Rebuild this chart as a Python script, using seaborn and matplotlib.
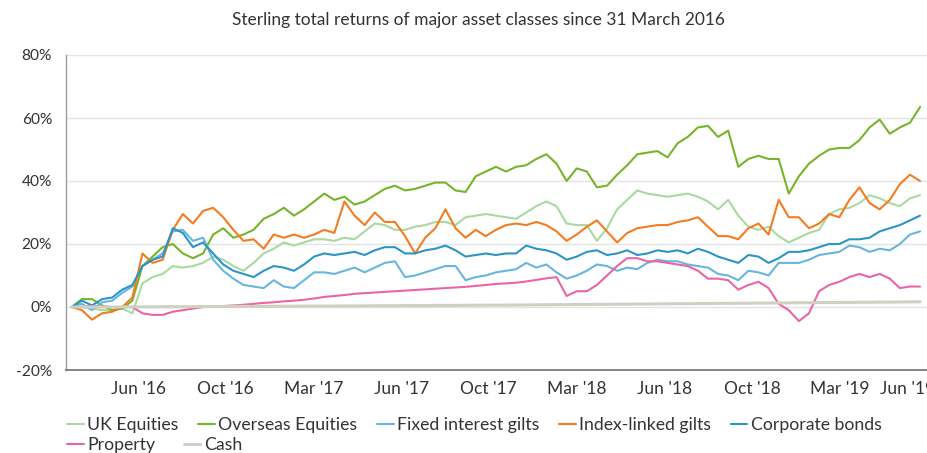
import matplotlib
matplotlib.use("Agg")
import matplotlib.pyplot as plt
import matplotlib.ticker as mticker
import matplotlib.transforms as mtransforms
import seaborn as sns
import pandas as pd
import numpy as np

# ---- data (fortnightly samples from 31 Mar 2016) ----
start_date = "2016-03-31"
step = "14D"

series_names = ["UK Equities", "Overseas Equities", "Fixed interest gilts",
                "Index-linked gilts", "Corporate bonds", "Property", "Cash"]

uk_equities = [0, 0, -0.5, -1, -1, -0.5, -2, 7.5, 9.5, 10.5, 13, 12.5, 13, 14, 16, 15, 13, 11.5, 14, 17,
               18.5, 20.5, 19.5, 20.5, 21.5, 21.5, 21, 22, 21.5, 24, 26.5, 26, 24.5, 24.5, 25.5, 26, 27, 27, 26, 28.5,
               29, 29.5, 29, 28.5, 28, 30, 32, 33.5, 32, 26.5, 26, 26, 21, 25, 31, 34, 37, 36, 35.5, 35,
               35.5, 36, 35, 33.5, 31, 34, 29, 25.5, 24.5, 25.5, 22.5, 20.5, 22, 23.5, 24.5, 29.5, 31, 31.5, 33, 35.5,
               34.5, 33, 32, 34.5, 35.5]
overseas_equities = [0, 2.5, 2.5, 0.5, -1, -0.5, 2, 13, 16, 19, 20, 17, 15.5, 17, 23, 25, 22, 23, 24.5, 28,
                     29.5, 31.5, 29, 31, 33.5, 36, 34, 35, 32.5, 33.5, 35.5, 37.5, 38.5, 37, 37.5, 38.5, 39.5, 39.5, 37, 36.5,
                     41.5, 43, 44.5, 43, 44.5, 45, 47, 48.5, 45.5, 40, 44, 43, 38, 38.5, 42, 45, 48.5, 49, 49.5, 47.5,
                     52, 54, 57, 57.5, 54, 56, 44.5, 47, 48, 47, 47, 36, 41.5, 45.5, 48, 50, 50.5, 50.5, 53, 57,
                     59.5, 55, 57, 58.5, 63.5]
fixed_interest_gilts = [0, 1, -1, 1.5, 2, 4.5, 6.5, 13, 15, 17, 24, 24.5, 21, 22, 15, 11.5, 9, 7, 6.5, 6,
                        8.5, 6.5, 6, 8.5, 11, 11, 10.5, 11.5, 12.5, 11, 12.5, 14, 14.5, 9.5, 10, 11, 12, 13, 13, 8.5,
                        9.5, 10, 11, 11.5, 12, 14, 12.5, 13.5, 11, 9, 10, 11.5, 13.5, 13, 11.5, 12.5, 12, 14, 15, 14.5,
                        14.5, 13.5, 13, 12.5, 10.5, 10, 8.5, 11.5, 11, 10, 14, 14, 14, 15, 16.5, 17, 17.5, 19.5, 19, 17.5,
                        18.5, 18, 20, 23, 24]
index_linked_gilts = [0, -1, -4, -2, -1.5, 0, 3, 17, 14, 15, 24.5, 29.5, 26.5, 30.5, 31.5, 28.5, 24.5, 21, 21.5, 18.5,
                      23, 22, 23, 22, 23, 24.5, 23.5, 33.5, 29, 26, 30, 27, 27, 22.5, 17, 22, 25, 31, 25, 22,
                      24.5, 22.5, 24.5, 26, 26.5, 26, 27, 26, 24, 21, 23, 25.5, 27.5, 24, 20.5, 23.5, 25, 25.5, 26, 26,
                      27, 27.5, 28.5, 25.5, 22.5, 22.5, 21.5, 25, 26.5, 23, 34, 28.5, 28.5, 25, 26.5, 29.5, 28.5, 34, 38, 33,
                      31, 34, 39, 42, 40]
corporate_bonds = [0, 2, 0.5, 2.5, 3, 5.5, 7, 13, 15, 16, 25, 23.5, 19, 20.5, 17, 13.5, 11.5, 10.5, 9.5, 11.5,
                   13, 12.5, 11.5, 13.5, 16, 17, 16.5, 17, 17.5, 16.5, 18, 19, 19, 17, 17, 18, 18.5, 19.5, 18, 16,
                   16.5, 17, 16.5, 17, 17, 19.5, 18.5, 18, 17, 15, 16, 17.5, 18, 16.5, 17, 18, 16.5, 17, 18, 17.5,
                   18, 17, 18.5, 17.5, 16, 15, 14, 16.5, 16, 14, 15.5, 17.5, 17.5, 18, 19, 20, 20, 21.5, 21.5, 22,
                   24, 25, 26, 27.5, 29]
property_ = [0, 0, 0.3, 0.2, 0, 0, 0, -2, -2.5, -2.5, -1.5, -1, -0.5, 0, 0.2, 0.3, 0.5, 0.7, 1, 1.3,
             1.5, 1.8, 2, 2.3, 2.7, 3.2, 3.5, 3.8, 4.2, 4.4, 4.6, 4.8, 5, 5.2, 5.4, 5.6, 5.8, 6, 6.2, 6.4,
             6.7, 7, 7.3, 7.5, 7.7, 8.1, 8.6, 9.1, 9.5, 3.5, 5, 5, 7, 10, 13, 15.5, 15.5, 14.5, 14.5, 14,
             13.5, 13, 11.5, 9, 9, 8.5, 5.5, 7, 8, 6, 1, -1, -4.5, -2, 5, 7, 8, 9.5, 10.5, 9.5,
             10.5, 9, 6, 6.5, 6.5]
cash = [0, 0, 0, 0, 0, 0, 0.05, 0.05, 0.05, 0.1, 0.1, 0.1, 0.1, 0.15, 0.15, 0.15, 0.2, 0.2, 0.2, 0.2,
        0.25, 0.25, 0.25, 0.3, 0.3, 0.3, 0.3, 0.35, 0.35, 0.35, 0.4, 0.4, 0.4, 0.45, 0.45, 0.45, 0.5, 0.5, 0.5, 0.55,
        0.55, 0.6, 0.6, 0.6, 0.65, 0.65, 0.7, 0.7, 0.75, 0.75, 0.8, 0.8, 0.85, 0.85, 0.9, 0.9, 0.95, 0.95, 1.0, 1.0,
        1.05, 1.05, 1.1, 1.1, 1.15, 1.15, 1.2, 1.2, 1.25, 1.25, 1.3, 1.3, 1.35, 1.35, 1.4, 1.4, 1.45, 1.45, 1.5, 1.5,
        1.55, 1.55, 1.6, 1.6, 1.65]

tick_dates = ["2016-07-01", "2016-10-30", "2017-03-01", "2017-07-01", "2017-10-30",
              "2018-03-01", "2018-07-01", "2018-10-30", "2019-03-01", "2019-07-01"]
tick_labels = ["Jun '16", "Oct '16", "Mar '17", "Jun '17", "Oct '17",
               "Mar '18", "Jun '18", "Oct '18", "Mar '19", "Jun '19"]
y_ticks = [-20, 0, 20, 40, 60, 80]

colors = ["#a9d9a1", "#78b42a", "#67b6de", "#f47c20", "#2b95c6", "#e965a6", "#cfd0c2"]

# ---- build long-form table ----
values = [uk_equities, overseas_equities, fixed_interest_gilts, index_linked_gilts,
          corporate_bonds, property_, cash]
dates = pd.date_range(start_date, periods=len(uk_equities), freq=step)
frames = []
for name, vals in zip(series_names, values):
    frames.append(pd.DataFrame({"date": dates, "value": vals, "series": name}))
df = pd.concat(frames, ignore_index=True)

# ---- plot ----
sns.set_style("white")
plt.rcParams["font.family"] = ["Lato", "DejaVu Sans"]

fig = plt.figure(figsize=(9.28, 4.53), dpi=100)
ax = fig.add_axes([66 / 928, 1 - 370 / 453, 1 - 66 / 928, (370 - 55) / 453])

sns.lineplot(data=df, x="date", y="value", hue="series", hue_order=series_names,
             palette=colors, linewidth=1.5, legend=False, ax=ax)
lines = ax.get_lines()
lines[-1].set_linewidth(2.2)
for ln in lines:
    ln.set_solid_joinstyle("round")

ax.set_xlim(pd.Timestamp("2016-03-23"), pd.Timestamp("2019-06-21"))
ax.set_ylim(-20, 80)
ax.set_yticks(y_ticks)
ax.yaxis.set_major_formatter(mticker.FuncFormatter(lambda v, p: f"{int(v)}%"))
ax.set_xticks(pd.to_datetime(tick_dates))
ax.set_xticklabels(tick_labels)
ax.set_xlabel("")
ax.set_ylabel("")

ax.grid(axis="y", color="#e3e3e3", linewidth=1.0)
ax.grid(axis="x", visible=False)
ax.set_axisbelow(True)
for s in ["top", "right"]:
    ax.spines[s].set_visible(False)
ax.spines["left"].set_color("#9a9a9a")
ax.spines["left"].set_linewidth(1.0)
ax.spines["bottom"].set_color("#7a7a7a")
ax.spines["bottom"].set_linewidth(1.3)

ax.tick_params(axis="y", length=0, labelsize=11.2, labelcolor="#333333", pad=10)
ax.tick_params(axis="x", length=6, width=1, color="#d0d0d0", direction="out",
               labelsize=12.5, labelcolor="#333333", pad=2)

# the last label is pulled inwards (as in the reference), still clipped by the edge
last_lbl = ax.get_xticklabels()[-1]
last_lbl.set_transform(last_lbl.get_transform() +
                       mtransforms.ScaledTranslation(-0.2, 0, fig.dpi_scale_trans))

fig.text(478 / 928, 1 - 20 / 453, "Sterling total returns of major asset classes since 31 March 2016",
         ha="center", va="center", fontsize=12.5, color="#333333")

# legend: two flowing rows like the reference
leg_kw = dict(loc="center left", frameon=False, handlelength=0.95, handletextpad=0.2,
              fontsize=12.7, borderaxespad=0, borderpad=0)
leg1 = fig.legend(lines[:5], series_names[:5], ncol=5, columnspacing=1.1,
                  bbox_to_anchor=(67 / 928, 1 - 425 / 453), **leg_kw)
leg2 = fig.legend(lines[5:], series_names[5:], ncol=2, columnspacing=1.6,
                  bbox_to_anchor=(67 / 928, 1 - 445 / 453), **leg_kw)
for lg in (leg1, leg2):
    for t in lg.get_texts():
        t.set_color("#333333")

fig.savefig("out.png", dpi=100)
